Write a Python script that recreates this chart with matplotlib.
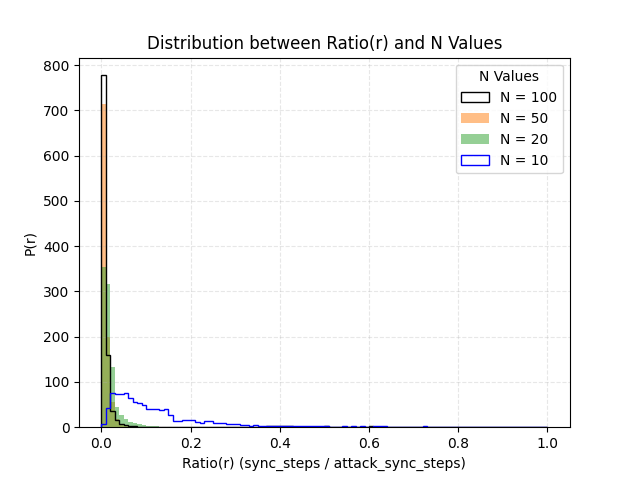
import numpy as np
import matplotlib
matplotlib.use("Agg")
import matplotlib.pyplot as plt

edges = np.round(np.arange(0, 1.0001, 0.01), 4)
def full(vals, extra=None):
    v = np.zeros(100)
    v[:len(vals)] = vals
    if extra:
        for k, h in extra.items():
            v[k] = h
    return v

n100 = full([778, 160, 35, 15, 8, 4, 3, 2, 1, 1], {37: 3, 38: 3, 39: 3, 40: 3, 41: 3, 42: 3, 50: 3, 60: 2})
n50 = full([715, 200, 55, 18, 7, 3, 2])
n20 = full([355, 317, 133, 45, 28, 18, 12, 9, 6, 4, 3, 2, 2, 1, 1])
n10 = full([8, 42, 75, 73, 73, 75, 65, 55, 53, 49, 40, 40, 40, 38, 40, 27, 14, 14, 17, 17,
            15, 12, 10, 14, 14, 10, 10, 10, 8, 8, 7, 4, 4, 3, 4, 3, 3, 2, 3, 2,
            2, 2, 3, 3, 3, 3, 2, 3, 2, 2, 2, 1, 1, 1, 2, 1, 2, 1, 2, 1,
            1, 2, 3, 2, 1, 1, 0, 1, 0, 1, 0, 1, 2, 0, 1, 0, 0, 1, 0, 0,
            0, 0, 0, 1, 0, 0, 0, 1, 0, 0, 0, 0, 0, 0, 0, 0, 0, 0, 0, 1])

centers = edges[:-1] + 0.005
fig, ax = plt.subplots(figsize=(6.33, 4.8), dpi=100)
ax.hist(centers, bins=edges, weights=n100, histtype='step', color='black', lw=1, label='N = 100')
ax.hist(centers, bins=edges, weights=n50, color='#ff7f0e', alpha=0.5, label='N = 50')
ax.hist(centers, bins=edges, weights=n20, color='#2ca02c', alpha=0.5, label='N = 20')
ax.hist(centers, bins=edges, weights=n10, histtype='step', color='blue', lw=1, label='N = 10')
ax.grid(True, linestyle='--', alpha=0.3)
ax.set_xlabel('Ratio(r) (sync_steps / attack_sync_steps)')
ax.set_ylabel('P(r)')
ax.set_title('Distribution between Ratio(r) and N Values')
ax.legend(title='N Values', loc='upper right')
fig.savefig('out.png')
